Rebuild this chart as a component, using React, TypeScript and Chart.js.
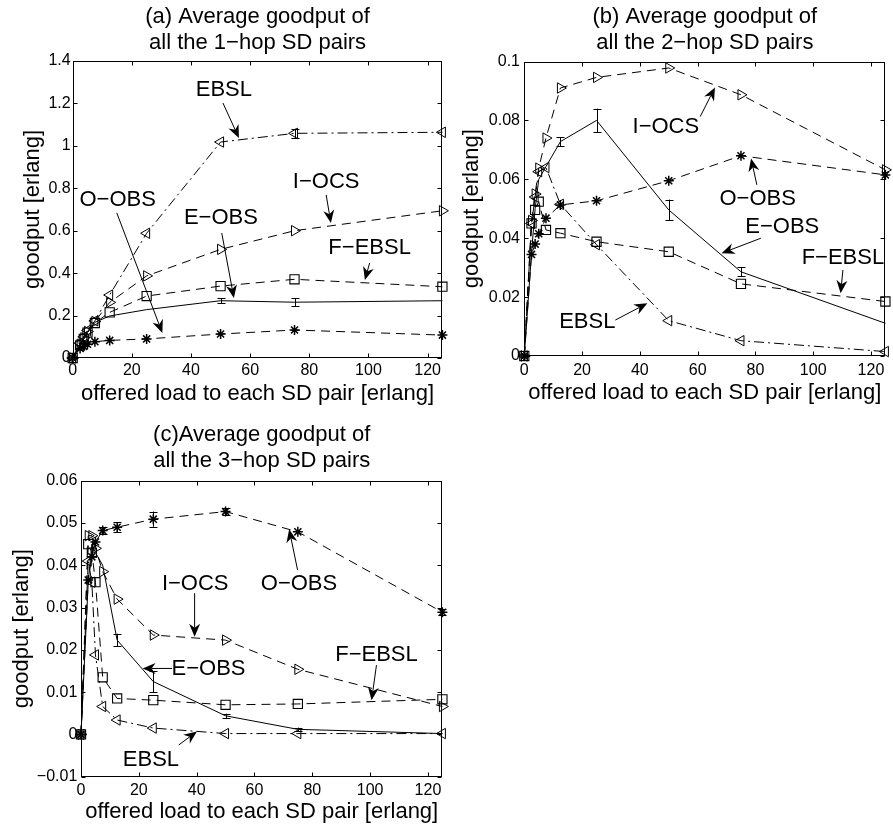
import { useEffect, useRef } from "react";
import { Chart, registerables } from "chart.js";

Chart.register(...registerables);

const FONT = '"Liberation Sans", Arial, Helvetica, sans-serif';

// offered load values (x) shared by every panel
const loads = [0, 2.5, 3.75, 5, 7.5, 12.5, 25, 50, 75, 125];
const xTickValues = [0, 20, 40, 60, 80, 100, 120];
const xTickLabels = ["0", "20", "40", "60", "80", "100", "120"];

// (a) 1-hop SD pairs
const aEBSL = [0, 0.07, 0.1, 0.13, 0.175, 0.297, 0.588, 1.018, 1.059, 1.064];
const aIOCS = [0, 0.065, 0.095, 0.125, 0.172, 0.262, 0.387, 0.512, 0.6, 0.694];
const aFEBSL = [0, 0.06, 0.09, 0.12, 0.165, 0.215, 0.292, 0.339, 0.371, 0.336];
const aEOBS = [0, 0.06, 0.09, 0.12, 0.168, 0.198, 0.228, 0.27, 0.263, 0.27];
const aOOBS = [0, 0.045, 0.055, 0.065, 0.077, 0.083, 0.09, 0.113, 0.132, 0.108];
const aEBSLErr = [0, 0, 0, 0, 0, 0, 0, 0, 0.022, 0];
const aEOBSErr = [0, 0, 0, 0, 0, 0, 0, 0.012, 0.018, 0];
const aYTicks = [0, 0.2, 0.4, 0.6, 0.8, 1, 1.2, 1.4];
const aYLabels = ["0", "0.2", "0.4", "0.6", "0.8", "1", "1.2", "1.4"];

// (b) 2-hop SD pairs
const bEBSL = [0, 0.045, 0.054, 0.0626, 0.064, 0.0515, 0.0378, 0.012, 0.0052, 0.0015];
const bIOCS = [0, 0.046, 0.055, 0.0638, 0.074, 0.091, 0.0946, 0.0978, 0.0887, 0.0632];
const bFEBSL = [0, 0.045, 0.0496, 0.0524, 0.0428, 0.0417, 0.0388, 0.0354, 0.0245, 0.0185];
const bEOBS = [0, 0.035, 0.05, 0.06, 0.0643, 0.0728, 0.08, 0.0496, 0.0286, 0.0111];
const bOOBS = [0, 0.0345, 0.038, 0.0415, 0.0468, 0.0513, 0.0527, 0.0595, 0.068, 0.0615];
const bEOBSErr = [0, 0, 0, 0, 0, 0.0015, 0.004, 0.0035, 0.0015, 0];
const bYTicks = [0, 0.02, 0.04, 0.06, 0.08, 0.1];
const bYLabels = ["0", "0.02", "0.04", "0.06", "0.08", "0.1"];

// (c) 3-hop SD pairs
const cEBSL = [0, 0.041, 0.036, 0.0188, 0.0066, 0.0034, 0.0015, 0.0002, 0.0002, 0.0002];
const cIOCS = [0, 0.047, 0.047, 0.044, 0.0385, 0.032, 0.0235, 0.0223, 0.0154, 0.0066];
const cFEBSL = [0, 0.045, 0.043, 0.036, 0.0135, 0.0085, 0.0081, 0.007, 0.0072, 0.0083];
const cEOBS = [0, 0.036, 0.045, 0.043, 0.04, 0.0223, 0.0125, 0.0044, 0.0012, 0.0002];
const cOOBS = [0, 0.0365, 0.042, 0.0455, 0.0482, 0.049, 0.0509, 0.0527, 0.0479, 0.0289];
const cEOBSErr = [0, 0, 0, 0, 0, 0.0015, 0.0025, 0.0005, 0.0004, 0];
const cOOBSErr = [0, 0, 0, 0, 0.0008, 0.0012, 0.0018, 0.0008, 0, 0.0007];
const cYTicks = [-0.01, 0, 0.01, 0.02, 0.03, 0.04, 0.05, 0.06];
const cYLabels = ["\u22120.01", "0", "0.01", "0.02", "0.03", "0.04", "0.05", "0.06"];

const xTitle = "offered load to each SD pair [erlang]";
const yTitle = "goodput [erlang]";

const STYLES: any = {
  EBSL: { dash: [10, 4, 2, 4], point: "triangle", rot: -90, r: 6, bw: 1 },
  "I-OCS": { dash: [9, 6], point: "triangle", rot: 90, r: 6, bw: 1 },
  "F-EBSL": { dash: [9, 6], point: "rect", rot: 0, r: 6.5, bw: 1.1 },
  "E-OBS": { dash: [], point: "circle", rot: 0, r: 0, bw: 1 },
  "O-OBS": { dash: [9, 6], point: "star", rot: 0, r: 5, bw: 1.5 },
};

const panels: any[] = [
  {
    key: "a", left: 0, top: 0, w: 450, h: 415,
    padRight: 6.7, yAxisW: 72.7, titleTop: 3.5, titleBottom: 4.7, xAxisH: 57,
    xTickPad: 3.2, xTitlePad: 7.8, yTitlePad: 19.3, yTickPad: 2,
    yMin: 0, yMax: 1.4, yTicks: aYTicks, yLabels: aYLabels,
    title: ["(a) Average goodput of", "all the 1\u2212hop SD pairs"],
    series: [
      ["EBSL", aEBSL, aEBSLErr], ["I-OCS", aIOCS, null], ["F-EBSL", aFEBSL, null],
      ["E-OBS", aEOBS, aEOBSErr], ["O-OBS", aOOBS, null],
    ],
    notes: [
      { t: "EBSL", tx: 51.1, ty: 1.264, x0: 50.8, y0: 1.202, x1: 56.2, y1: 1.037 },
      { t: "I\u2212OCS", tx: 85.7, ty: 0.83, x0: 85.7, y0: 0.769, x1: 87.3, y1: 0.636 },
      { t: "O\u2212OBS", tx: 15.2, ty: 0.745, x0: 14.9, y0: 0.684, x1: 30.3, y1: 0.118 },
      { t: "E\u2212OBS", tx: 50.1, ty: 0.66, x0: 50.4, y0: 0.589, x1: 54.5, y1: 0.283 },
      { t: "F\u2212EBSL", tx: 100.4, ty: 0.519, x0: 100.4, y0: 0.448, x1: 98.8, y1: 0.368 },
    ],
  },
  {
    key: "b", left: 446, top: 0, w: 447, h: 415,
    padRight: 1.5, yAxisW: 78.3, titleTop: 3.5, titleBottom: 5.2, xAxisH: 59,
    xTickPad: 4.5, xTitlePad: 8.5, yTitlePad: 12.5, yTickPad: 4.3,
    yMin: 0, yMax: 0.1, yTicks: bYTicks, yLabels: bYLabels,
    title: ["(b) Average goodput of", "all the 2\u2212hop SD pairs"],
    series: [
      ["EBSL", bEBSL, null], ["I-OCS", bIOCS, null], ["F-EBSL", bFEBSL, null],
      ["E-OBS", bEOBS, bEOBSErr], ["O-OBS", bOOBS, null],
    ],
    notes: [
      { t: "I\u2212OCS", tx: 49.0, ty: 0.0779, x0: 60.9, y0: 0.0813, x1: 66.0, y1: 0.0912 },
      { t: "O\u2212OBS", tx: 80.8, ty: 0.0532, x0: 80.5, y0: 0.0581, x1: 78.5, y1: 0.0671 },
      { t: "E\u2212OBS", tx: 89.3, ty: 0.0439, x0: 81.9, y0: 0.04, x1: 68.3, y1: 0.0349 },
      { t: "F\u2212EBSL", tx: 110.3, ty: 0.0332, x0: 110.3, y0: 0.0292, x1: 109.5, y1: 0.0213 },
      { t: "EBSL", tx: 21.8, ty: 0.0116, x0: 31.5, y0: 0.0122, x1: 42.6, y1: 0.0179 },
    ],
  },
  {
    key: "c", left: 0, top: 415, w: 450, h: 412,
    padRight: 3.3, yAxisW: 81, titleTop: 6.8, titleBottom: 6.1, xAxisH: 50.3,
    xTickPad: 3.8, xTitlePad: 2.1, yTitlePad: 8.5, yTickPad: 3.7,
    yMin: -0.01, yMax: 0.06, yTicks: cYTicks, yLabels: cYLabels,
    title: ["(c)Average goodput of", "all the 3\u2212hop SD pairs"],
    series: [
      ["EBSL", cEBSL, null], ["I-OCS", cIOCS, null], ["F-EBSL", cFEBSL, null],
      ["E-OBS", cEOBS, cEOBSErr], ["O-OBS", cOOBS, cOOBSErr],
    ],
    notes: [
      { t: "I\u2212OCS", tx: 39.5, ty: 0.0357, x0: 39.3, y0: 0.0334, x1: 39.3, y1: 0.0231 },
      { t: "O\u2212OBS", tx: 75.4, ty: 0.0357, x0: 74.9, y0: 0.0389, x1: 72.0, y1: 0.0485 },
      { t: "E\u2212OBS", tx: 44.1, ty: 0.0156, x0: 31.5, y0: 0.0156, x1: 21.3, y1: 0.0156 },
      { t: "F\u2212EBSL", tx: 102.2, ty: 0.0188, x0: 102.2, y0: 0.0164, x1: 100.5, y1: 0.0081 },
      { t: "EBSL", tx: 24.2, ty: -0.006, x0: 33.8, y0: -0.0025, x1: 40.1, y1: 0.0007 },
    ],
  },
];

const framePlugin = {
  id: "frame",
  beforeDatasetsDraw(chart: any) {
    const { ctx, chartArea: a, scales } = chart;
    const L = Math.round(a.left) + 0.5, R = Math.round(a.right) - 0.5;
    const T = Math.round(a.top) + 0.5, B = Math.round(a.bottom) - 0.5;
    ctx.save();
    ctx.strokeStyle = "#000";
    ctx.lineWidth = 1;
    ctx.setLineDash([]);
    ctx.strokeRect(L, T, R - L, B - T);
    ctx.beginPath();
    for (const t of scales.x.ticks) {
      const px = Math.round(scales.x.getPixelForValue(t.value)) + 0.5;
      ctx.moveTo(px, B); ctx.lineTo(px, B - 4);
      ctx.moveTo(px, T); ctx.lineTo(px, T + 4);
    }
    for (const t of scales.y.ticks) {
      const py = Math.round(scales.y.getPixelForValue(t.value)) + 0.5;
      ctx.moveTo(L, py); ctx.lineTo(L + 4, py);
      ctx.moveTo(R, py); ctx.lineTo(R - 4, py);
    }
    ctx.stroke();
    ctx.restore();
  },
};

const errorBarPlugin = {
  id: "errbars",
  afterDatasetsDraw(chart: any) {
    const { ctx, scales } = chart;
    ctx.save();
    ctx.strokeStyle = "#000";
    ctx.lineWidth = 1;
    ctx.setLineDash([]);
    ctx.beginPath();
    chart.data.datasets.forEach((ds: any) => {
      if (!ds.errors) return;
      ds.data.forEach((p: any, i: number) => {
        const e = ds.errors[i];
        if (!e) return;
        const px = Math.round(scales.x.getPixelForValue(p.x)) + 0.5;
        const y1 = scales.y.getPixelForValue(p.y + e);
        const y2 = scales.y.getPixelForValue(p.y - e);
        ctx.moveTo(px, y1); ctx.lineTo(px, y2);
        ctx.moveTo(px - 4, Math.round(y1) + 0.5); ctx.lineTo(px + 4, Math.round(y1) + 0.5);
        ctx.moveTo(px - 4, Math.round(y2) + 0.5); ctx.lineTo(px + 4, Math.round(y2) + 0.5);
      });
    });
    ctx.stroke();
    ctx.restore();
  },
};

function makeNotesPlugin(notes: any[]) {
  return {
    id: "notes",
    afterDraw(chart: any) {
      const { ctx, scales } = chart;
      const X = (v: number) => scales.x.getPixelForValue(v);
      const Y = (v: number) => scales.y.getPixelForValue(v);
      ctx.save();
      ctx.fillStyle = "#000";
      ctx.strokeStyle = "#000";
      ctx.lineWidth = 1;
      ctx.setLineDash([]);
      ctx.font = `22px ${FONT}`;
      ctx.textAlign = "center";
      ctx.textBaseline = "middle";
      for (const n of notes) {
        ctx.fillText(n.t, X(n.tx), Y(n.ty));
        const ax = X(n.x0), ay = Y(n.y0), bx = X(n.x1), by = Y(n.y1);
        const ang = Math.atan2(by - ay, bx - ax);
        const len = 13, hw = 5.5, notch = 9;
        const ux = Math.cos(ang), uy = Math.sin(ang);
        const nx = -uy, ny = ux;
        ctx.beginPath();
        ctx.moveTo(ax, ay);
        ctx.lineTo(bx - ux * notch, by - uy * notch);
        ctx.stroke();
        ctx.beginPath();
        ctx.moveTo(bx, by);
        ctx.lineTo(bx - ux * len + nx * hw, by - uy * len + ny * hw);
        ctx.lineTo(bx - ux * notch, by - uy * notch);
        ctx.lineTo(bx - ux * len - nx * hw, by - uy * len - ny * hw);
        ctx.closePath();
        ctx.fill();
      }
      ctx.restore();
    },
  };
}

function buildConfig(p: any): any {
  const datasets = p.series.map(([name, vals, errs]: any) => {
    const s = STYLES[name];
    return {
      label: name,
      data: loads.map((x, i) => ({ x, y: vals[i] })),
      errors: errs,
      borderColor: "#000",
      borderWidth: 1,
      borderDash: s.dash,
      pointStyle: s.point,
      rotation: s.rot,
      pointRadius: s.r,
      pointBorderColor: "#000",
      pointBackgroundColor: "rgba(0,0,0,0)",
      pointBorderWidth: s.bw,
      fill: false,
      tension: 0,
      clip: false,
    };
  });
  const titleFont = { family: FONT, size: 22, weight: "normal", lineHeight: 1.2 };
  const tickFont = { family: FONT, size: 16, weight: "normal", lineHeight: 1.2 };
  return {
    type: "line",
    data: { datasets },
    options: {
      animation: false,
      responsive: false,
      devicePixelRatio: 1,
      events: [],
      layout: { padding: { left: 0, right: p.padRight, top: 0, bottom: 0 } },
      plugins: {
        legend: { display: false },
        tooltip: { enabled: false },
        title: {
          display: true,
          text: p.title,
          fullSize: false,
          color: "#000",
          font: titleFont,
          padding: { top: p.titleTop, bottom: p.titleBottom },
        },
      },
      scales: {
        x: {
          type: "linear",
          min: 0,
          max: 125,
          afterBuildTicks: (s: any) => { s.ticks = xTickValues.map((v) => ({ value: v })); },
          afterFit: (s: any) => { s.height = p.xAxisH; },
          grid: { display: false, drawTicks: false },
          border: { display: false },
          ticks: {
            color: "#000",
            font: tickFont,
            padding: p.xTickPad,
            autoSkip: false,
            maxRotation: 0,
            minRotation: 0,
            callback: (_v: any, i: number) => xTickLabels[i],
          },
          title: {
            display: true,
            text: xTitle,
            color: "#000",
            font: titleFont,
            padding: { top: 0, bottom: p.xTitlePad },
          },
        },
        y: {
          type: "linear",
          min: p.yMin,
          max: p.yMax,
          afterBuildTicks: (s: any) => { s.ticks = p.yTicks.map((v: number) => ({ value: v })); },
          afterFit: (s: any) => { s.width = p.yAxisW; },
          grid: { display: false, drawTicks: false },
          border: { display: false },
          ticks: {
            color: "#000",
            font: tickFont,
            padding: p.yTickPad,
            autoSkip: false,
            callback: (_v: any, i: number) => p.yLabels[i],
          },
          title: {
            display: true,
            text: yTitle,
            color: "#000",
            font: titleFont,
            padding: { top: p.yTitlePad, bottom: 0 },
          },
        },
      },
    },
    plugins: [framePlugin, errorBarPlugin, makeNotesPlugin(p.notes)],
  };
}

function Panel({ spec }: { spec: any }) {
  const ref = useRef<HTMLCanvasElement | null>(null);
  useEffect(() => {
    if (!ref.current) return;
    const chart = new Chart(ref.current, buildConfig(spec));
    return () => chart.destroy();
  }, [spec]);
  return (
    <canvas
      ref={ref}
      width={spec.w}
      height={spec.h}
      style={{ position: "absolute", left: spec.left, top: spec.top, width: spec.w, height: spec.h }}
    />
  );
}

export default function App() {
  return (
    <div style={{ position: "absolute", left: 0, top: 0, width: 893, height: 827, background: "#fff", overflow: "hidden" }}>
      {panels.map((p) => (
        <Panel key={p.key} spec={p} />
      ))}
    </div>
  );
}
